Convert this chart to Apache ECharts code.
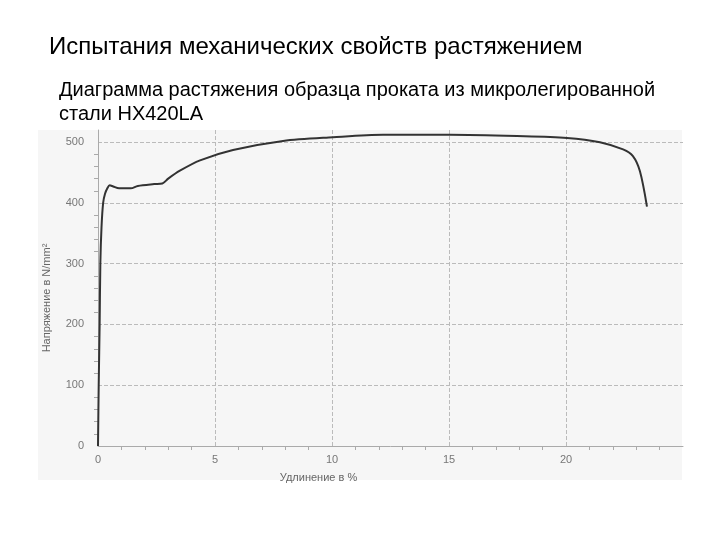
<!DOCTYPE html>
<html>
<head>
<meta charset="utf-8">
<script src="https://cdn.jsdelivr.net/npm/echarts@6/dist/echarts.min.js"></script>
<style>
  html, body { margin: 0; padding: 0; background: #fff; }
  #chart { width: 720px; height: 540px; }
</style>
</head>
<body>
<div id="chart"></div>
<script>
// elongation, %
const elongation = [0, 0.03, 0.07, 0.1, 0.15, 0.22, 0.3, 0.4, 0.5, 0.65, 0.9, 1.4, 1.7, 2.4, 2.75, 3.0, 3.5, 4.36,
  5.77, 7.91, 10.04, 12.18, 15.04, 17.9, 20.04, 21.45, 22.44, 22.86, 23.16, 23.46];
// stress, N/mm2
const stress = [0, 100, 200, 300, 360, 400, 415, 424, 429, 427, 424, 424, 428, 431, 432, 440, 453, 470,
  487, 502, 508, 512, 512, 510, 507, 500, 488, 477, 452, 394];

const points = elongation.map((x, i) => [x, stress[i]]);

const chart = echarts.init(document.getElementById('chart'));
const font = 'Liberation Sans, Arial, sans-serif';

const option = {
  backgroundColor: '#fff',
  animation: false,
  title: [
    {
      text: 'Испытания механических свойств растяжением',
      left: 44, top: 30,
      textStyle: { fontFamily: font, fontWeight: 'normal', fontSize: 24, color: '#000' }
    },
    {
      text: 'Диаграмма растяжения образца проката из микролегированной\nстали HX420LA',
      left: 54, top: 73,
      textStyle: { fontFamily: font, fontWeight: 'normal', fontSize: 20, lineHeight: 24, color: '#000' }
    }
  ],
  graphic: [
    {
      type: 'rect', z: -10, silent: true,
      shape: { x: 38, y: 130, width: 644, height: 350 },
      style: { fill: '#f6f6f6' }
    }
  ],
  grid: { left: 98, right: 37, top: 130, bottom: 94 },
  xAxis: {
    type: 'value', min: 0, max: 25, interval: 5,
    name: 'Удлинение в %', nameLocation: 'middle', nameGap: 26,
    nameTextStyle: { fontFamily: font, fontSize: 11, color: '#666', padding: [0, 144, 0, 0] },
    axisLine: { show: true, lineStyle: { color: '#aaa' } },
    axisTick: { show: false },
    minorTick: { show: true, splitNumber: 5, length: 4, lineStyle: { color: '#aaa' } },
    axisLabel: { fontFamily: font, fontSize: 11, color: '#777', margin: 8, showMaxLabel: false },
    splitLine: { show: true, showMaxLine: false, lineStyle: { color: '#bbb', type: 'dashed' } }
  },
  yAxis: {
    type: 'value', min: 0, max: 520, interval: 100,
    name: 'Напряжение в N/mm²', nameLocation: 'middle', nameGap: 46,
    nameTextStyle: { fontFamily: font, fontSize: 11, color: '#666', padding: [0, 20, 0, 0] },
    axisLine: { show: true, lineStyle: { color: '#aaa' } },
    axisTick: { show: false },
    minorTick: { show: true, splitNumber: 5, length: 4, lineStyle: { color: '#aaa' } },
    axisLabel: { fontFamily: font, fontSize: 11, color: '#777', margin: 14, showMaxLabel: false },
    splitLine: { show: true, showMaxLine: false, lineStyle: { color: '#bbb', type: 'dashed' } }
  },
  series: [
    {
      type: 'line',
      data: points,
      smooth: 0.3,
      showSymbol: false,
      lineStyle: { color: '#333', width: 2 }
    }
  ]
};

chart.setOption(option);
</script>
</body>
</html>
